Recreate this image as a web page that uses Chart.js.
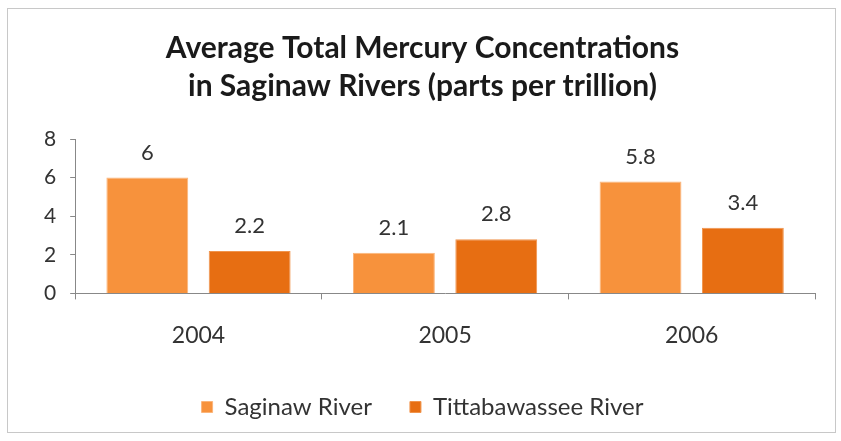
<!DOCTYPE html>
<html>
<head>
    <title>Mercury Concentrations</title>
    <script src="https://cdn.jsdelivr.net/npm/chart.js"></script>
    <style>
        body { margin: 0; background: #fff; }
    </style>
</head>
<body>
    <div>
        <canvas id="myChart" width="841" height="441"></canvas>
    </div>

    <script>
        // yearly averages, parts per trillion
        const years = ['2004', '2005', '2006'];
        const saginaw = [6, 2.1, 5.8];
        const tittabawassee = [2.2, 2.8, 3.4];
        const yTicks = [0, 2, 4, 6, 8];

        const textFont = 'Lato, "Open Sans", sans-serif';

        // light grey frame round the whole chart
        const framePlugin = {
            id: 'frame',
            beforeDraw(chart) {
                const ctx = chart.ctx;
                ctx.save();
                ctx.fillStyle = '#fff';
                ctx.fillRect(0, 0, chart.width, chart.height);
                ctx.strokeStyle = '#c8c8c8';
                ctx.lineWidth = 1;
                ctx.strokeRect(7.5, 8.5, 828, 424);
                ctx.restore();
            }
        };

        // value written above each bar
        const valueLabels = {
            id: 'valueLabels',
            afterDatasetsDraw(chart) {
                const ctx = chart.ctx;
                ctx.save();
                ctx.font = '22px ' + textFont;
                ctx.fillStyle = '#333';
                ctx.textAlign = 'center';
                ctx.textBaseline = 'middle';
                chart.data.datasets.forEach((ds, i) => {
                    chart.getDatasetMeta(i).data.forEach((bar, j) => {
                        ctx.fillText(String(ds.data[j]), bar.x, bar.y - 25);
                    });
                });
                ctx.restore();
            }
        };

        const ctx = document.getElementById('myChart').getContext('2d');
        window.myChart = new Chart(ctx, {
            type: 'bar',
            data: {
                labels: years,
                datasets: [{
                    label: 'Saginaw River',
                    data: saginaw,
                    backgroundColor: '#f7923c',
                    borderColor: '#fbb57a',
                    borderWidth: 1
                }, {
                    label: 'Tittabawassee River',
                    data: tittabawassee,
                    backgroundColor: '#e76e12',
                    borderColor: '#f0944c',
                    borderWidth: 1
                }]
            },
            options: {
                responsive: false,
                animation: false,
                layout: {
                    padding: { top: 30, left: 30, right: 26, bottom: 12 }
                },
                datasets: {
                    bar: { categoryPercentage: 0.83, barPercentage: 0.8 }
                },
                plugins: {
                    title: {
                        display: true,
                        text: ['Average Total Mercury Concentrations', 'in Saginaw Rivers (parts per trillion)'],
                        color: '#1a1a1a',
                        font: { family: textFont, size: 30, weight: 'bold', lineHeight: 1.25 },
                        padding: { top: 0, bottom: 34 }
                    },
                    legend: {
                        position: 'bottom',
                        labels: {
                            color: '#333',
                            font: { family: textFont, size: 24 },
                            boxWidth: 11,
                            boxHeight: 11,
                            padding: 38
                        }
                    },
                    tooltip: { enabled: false }
                },
                scales: {
                    x: {
                        // labels sit well below the axis but the axis box stays short
                        afterFit(scale) {
                            scale.height = scale.height - 14;
                        },
                        grid: {
                            display: true,
                            drawOnChartArea: false,
                            tickLength: 6,
                            color: '#888'
                        },
                        border: { color: '#888' },
                        ticks: {
                            color: '#333',
                            font: { family: textFont, size: 23 },
                            padding: 22
                        }
                    },
                    y: {
                        min: 0,
                        max: 8,
                        afterBuildTicks(axis) {
                            axis.ticks = yTicks.map(v => ({ value: v }));
                        },
                        grid: {
                            display: true,
                            drawOnChartArea: false,
                            tickLength: 5,
                            color: '#888'
                        },
                        border: { color: '#888' },
                        ticks: {
                            color: '#333',
                            font: { family: textFont, size: 21 },
                            padding: 14
                        }
                    }
                }
            },
            plugins: [framePlugin, valueLabels]
        });
    </script>
</body>
</html>
